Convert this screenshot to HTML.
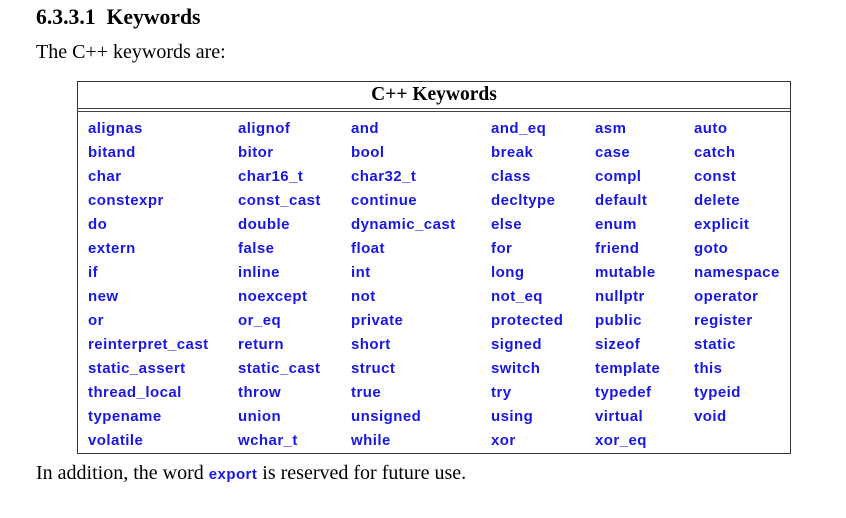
<!DOCTYPE html>
<html><head><meta charset="utf-8"><style>
body{margin:0;width:846px;height:518px;background:#fff;position:relative;overflow:hidden;font-family:"Liberation Serif",serif;color:#000}
.a{position:absolute;white-space:nowrap}
h1{position:absolute;left:36px;top:5px;margin:0;font-size:21.7px;font-weight:bold}
.box{position:absolute;left:77px;top:81px;width:714px;height:373px;border:1.5px solid #333;box-sizing:border-box}
.l{position:absolute;left:77px;width:714px;height:0;border-top:1.5px solid #444}
.k{position:absolute;font-family:"Liberation Sans",sans-serif;font-weight:bold;font-size:15px;letter-spacing:0.45px;color:#1818e0;white-space:nowrap;line-height:16px}
</style></head><body>
<h1>6.3.3.1&nbsp; Keywords</h1>
<div class="a" style="left:36px;top:41px;font-size:20px">The C++ keywords are:</div>
<div class="box"></div>
<div class="a" style="left:77px;width:714px;text-align:center;top:84px;font-size:19.5px;font-weight:bold">C++ Keywords</div>
<div class="l" style="top:108px"></div>
<div class="l" style="top:111px"></div>
<div id="t"></div>
<div class="a" style="left:36px;top:462px;font-size:20px">In addition, the word <span style="font-family:'Liberation Sans',sans-serif;font-weight:bold;font-size:15px;letter-spacing:0.45px;color:#1818e0">export</span> is reserved for future use.</div>
<script>
var rows=[["alignas","alignof","and","and_eq","asm","auto"],["bitand","bitor","bool","break","case","catch"],["char","char16_t","char32_t","class","compl","const"],["constexpr","const_cast","continue","decltype","default","delete"],["do","double","dynamic_cast","else","enum","explicit"],["extern","false","float","for","friend","goto"],["if","inline","int","long","mutable","namespace"],["new","noexcept","not","not_eq","nullptr","operator"],["or","or_eq","private","protected","public","register"],["reinterpret_cast","return","short","signed","sizeof","static"],["static_assert","static_cast","struct","switch","template","this"],["thread_local","throw","true","try","typedef","typeid"],["typename","union","unsigned","using","virtual","void"],["volatile","wchar_t","while","xor","xor_eq",""]];
var xs=[88,238,351,491,595,694],h="";
rows.forEach(function(r,i){r.forEach(function(w,j){h+='<div class="k" style="left:'+xs[j]+'px;top:'+(121+i*24)+'px">'+w+'</div>';});});
document.getElementById("t").innerHTML=h;
</script>
</body></html>
